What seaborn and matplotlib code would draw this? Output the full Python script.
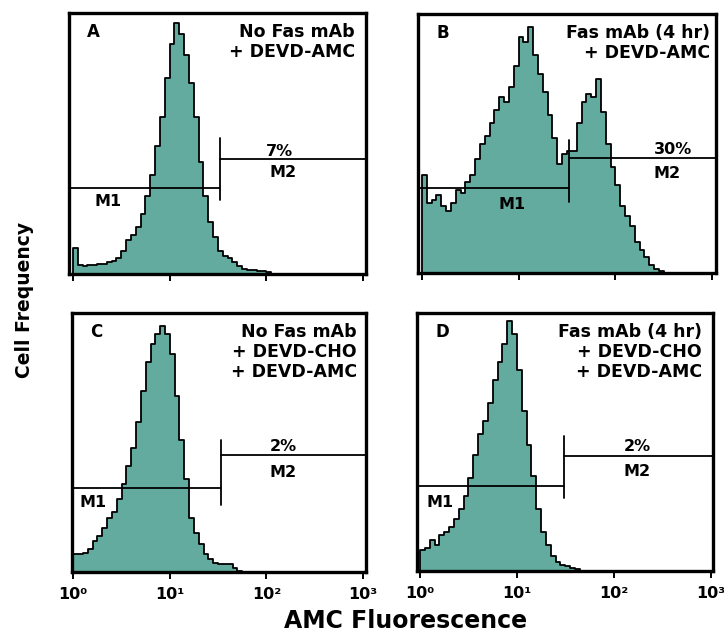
import numpy as np
import pandas as pd
import matplotlib
matplotlib.use("Agg")
import matplotlib.pyplot as plt
import seaborn as sns

# Fluorescence channels: 60 equal-width bins in log10 units over three decades
bin_edges = [round(0.05 * k, 3) for k in range(61)]
channel_centers = [round(0.05 * k + 0.025, 3) for k in range(60)]

# Relative cell counts per channel (percent of panel height)
counts_a = [10, 3.5, 3, 3.5, 3.5, 4, 4, 4.5, 5, 6,
            9, 13, 15, 18, 23, 30, 38, 49, 60, 75,
            88, 96, 92, 84, 73, 60, 43, 30, 20, 14,
            9, 7, 6, 4.5, 3, 2, 1.5, 1.5, 1, 1,
            0.8, 0, 0, 0, 0, 0, 0, 0, 0, 0,
            0, 0, 0, 0, 0, 0, 0, 0, 0, 0]
counts_b = [38, 27, 28, 30, 26, 24, 27, 32, 31, 35,
            38, 44, 50, 53, 58, 63, 68, 66, 72, 80,
            91, 89, 95, 84, 77, 70, 61, 52, 42, 46,
            47, 47, 58, 66, 69, 68, 75, 62, 50, 41,
            34, 26, 22, 18, 12, 9, 6, 3, 1.5, 0.8,
            0, 0, 0, 0, 0, 0, 0, 0, 0, 0]
counts_c = [7, 7, 7.5, 9, 12, 14, 17, 21, 23, 28,
            34, 41, 48, 58, 70, 81, 88, 92, 95, 92,
            84, 68, 51, 36, 21, 15, 11, 7, 5, 3.5,
            3, 3, 3, 1.5, 0.5, 0, 0, 0, 0, 0,
            0, 0, 0, 0, 0, 0, 0, 0, 0, 0,
            0, 0, 0, 0, 0, 0, 0, 0, 0, 0]
counts_d = [8, 9, 12, 10, 14, 15, 17, 20, 24, 29,
            36, 45, 53, 58, 65, 74, 81, 88, 97, 92,
            78, 62, 49, 37, 24, 15, 10, 6, 3.5, 2.5,
            2, 1.2, 0.8, 0, 0, 0, 0, 0, 0, 0,
            0, 0, 0, 0, 0, 0, 0, 0, 0, 0,
            0, 0, 0, 0, 0, 0, 0, 0, 0, 0]

panel_letters = ["A", "B", "C", "D"]
conditions = ["No Fas mAb\n+ DEVD-AMC",
              "Fas mAb (4 hr)\n+ DEVD-AMC",
              "No Fas mAb\n+ DEVD-CHO\n+ DEVD-AMC",
              "Fas mAb (4 hr)\n+ DEVD-CHO\n+ DEVD-AMC"]
m2_percent = ["7%", "30%", "2%", "2%"]

# Gate boundary between M1 and M2 (log10 units) and gate levels
gate_split = [1.52, 1.52, 1.53, 1.49]
m1_level = [33, 33, 32.4, 33]
m2_level = [44, 44.4, 45, 44.7]

tick_values = [0, 1, 2, 3]
tick_labels = ["10⁰", "10¹", "10²", "10³"]

sns.set_style("white")
plt.rcParams["font.family"] = ["DejaVu Sans"]
plt.rcParams["font.weight"] = "bold"
plt.rcParams["text.color"] = "black"
plt.rcParams["xtick.color"] = "black"
plt.rcParams["xtick.labelcolor"] = "black"

W, H = 724, 632
fig = plt.figure(figsize=(W / 100, H / 100), dpi=100)

# pixel boxes (left, top, right, bottom) and x-limits in log10 units
boxes = [(69, 13, 366, 274), (418, 14, 716, 273),
         (72, 313, 366, 572), (417, 313, 713, 571)]
xlims = [(-0.041, 3.031), (-0.041, 3.041), (-0.013, 3.031), (-0.031, 3.024)]
m1_label_pos = [(0.36, 27.6), (0.93, 26.6), (0.20, 27.0), (0.21, 26.4)]
pct_label_pos = [(2.14, 47.0), (2.60, 47.5), (2.17, 48.3), (2.24, 48.4)]
m2_label_pos = [(2.17, 39.0), (2.54, 38.6), (2.17, 38.6), (2.24, 38.4)]
bar_span = [(28.4, 52.0), (27.4, 51.4), (25.9, 51.0), (28.3, 52.3)]
cond_right = [355, 710, 357, 702]

fill_color = "#64ab9f"
all_counts = [counts_a, counts_b, counts_c, counts_d]

for i in range(4):
    l, t, r, b = boxes[i]
    ax = fig.add_axes([l / W, 1 - b / H, (r - l) / W, (b - t) / H])
    df = pd.DataFrame({"channel": channel_centers,
                       "count": np.asarray(all_counts[i], dtype=float)})
    sns.histplot(data=df, x="channel", weights="count", bins=bin_edges,
                 element="step", fill=True, color=fill_color, alpha=1.0,
                 edgecolor="black", linewidth=1.3, ax=ax)
    ax.set_xlim(*xlims[i])
    ax.set_ylim(0, 100)
    ax.set(xlabel="", ylabel="")
    ax.set_yticks([])
    ax.set_xticks(tick_values)
    ax.tick_params(axis="x", direction="out", length=5, width=1.4,
                   color="black", labelcolor="black", pad=6,
                   labelsize=11.5, labelbottom=(i >= 2), bottom=True)
    if i >= 2:
        ax.set_xticklabels(tick_labels, fontweight="bold")
    for s in ax.spines.values():
        s.set_visible(True)
        s.set_linewidth(2.4)
        s.set_color("black")

    x0 = xlims[i][0]
    x1 = xlims[i][1]
    g = gate_split[i]
    ax.plot([x0, g], [m1_level[i], m1_level[i]], color="black", lw=1.3)
    ax.plot([g, x1], [m2_level[i], m2_level[i]], color="black", lw=1.3)
    ax.plot([g, g], bar_span[i], color="black", lw=1.3)

    ax.text(*m1_label_pos[i], "M1", ha="center", va="center",
            fontsize=11.5, fontweight="bold", color="black")
    ax.text(*pct_label_pos[i], m2_percent[i], ha="center", va="center",
            fontsize=11.5, fontweight="bold", color="black")
    ax.text(*m2_label_pos[i], "M2", ha="center", va="center",
            fontsize=11.5, fontweight="bold", color="black")

    fig.text((l + 18) / W, 1 - (t + 19) / H, panel_letters[i],
             ha="left", va="center", fontsize=12, fontweight="bold",
             color="black")
    fig.text(cond_right[i] / W, 1 - (t + 10) / H, conditions[i],
             ha="right", va="top", fontsize=12.5, fontweight="bold",
             linespacing=1.15, multialignment="right", color="black")

fig.text(25 / W, 1 - 300 / H, "Cell Frequency", rotation=90,
         ha="center", va="center", fontsize=13.5, fontweight="bold",
         color="black")
fig.text(406 / W, 1 - 628 / H, "AMC Fluorescence",
         ha="center", va="baseline", fontsize=17, fontweight="bold",
         color="black")

fig.savefig("out.png", dpi=100, facecolor="white")
